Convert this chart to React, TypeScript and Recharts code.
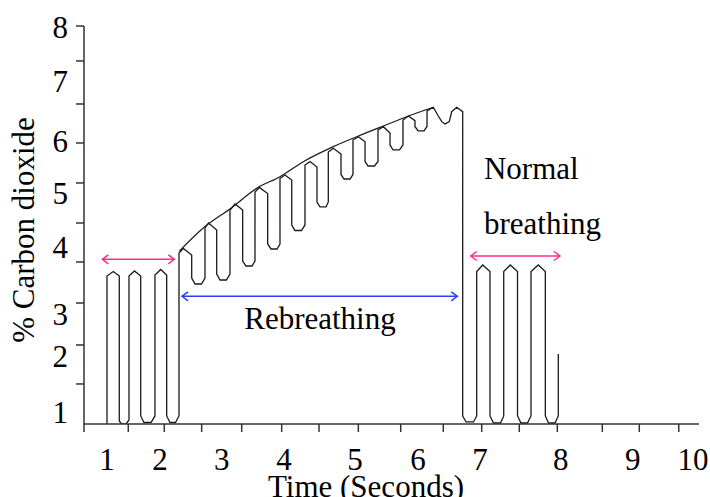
import React from 'react';
import { ComposedChart, Line, XAxis, YAxis, ReferenceLine, ReferenceDot } from 'recharts';

// The original figure is hand drawn: tick marks and tick labels are not evenly placed,
// so marks and labels are kept as separate lists (positions in axis units).
const xTickMarks = [0.647, 1.327, 1.88, 2.454, 3.069, 3.683, 4.256, 4.86, 5.511, 6.165, 6.755, 7.332, 7.916, 8.607, 9.175, 9.781];
const xLabelPos = [1, 1.814, 2.762, 3.719, 4.81, 5.777, 6.728, 7.968, 9.074, 10];
const xLabels = ['1', '2', '3', '4', '5', '6', '7', '8', '9', '10'];

const yTickMarks = [1.527, 2.235, 2.997, 3.742, 4.45, 5.177, 5.903, 6.611, 7.392, 8.027];
const yLabelPos = [1, 2.017, 2.78, 3.996, 4.977, 5.921, 7.011, 8];
const yLabels = ['1', '2', '3', '4', '5', '6', '7', '8'];

// CO2 trace: normal breathing, rebreathing, normal breathing
const traceTime = [
  1.0, 1.0, 1.097, 1.189, 1.189, 1.223, 1.292, 1.338, 1.338, 1.422, 1.518, 1.518, 1.568, 1.676, 1.737, 1.737,
  1.825, 1.917, 1.917, 1.968, 2.052, 2.106,
  2.106, 2.172, 2.301, 2.301, 2.352, 2.451, 2.505, 2.505, 2.559, 2.685, 2.685, 2.736, 2.835, 2.889, 2.889, 2.966,
  3.084, 3.084, 3.135, 3.227, 3.273, 3.273, 3.339, 3.468, 3.468, 3.519, 3.611, 3.657, 3.657, 3.734, 3.837, 3.837,
  3.887, 3.987, 4.041, 4.041, 4.118, 4.225, 4.225, 4.271, 4.364, 4.399, 4.399, 4.476, 4.594, 4.594, 4.64, 4.732,
  4.778, 4.778, 4.86, 4.963, 4.963, 5.009, 5.108, 5.162, 5.162, 5.244, 5.347, 5.347, 5.393, 5.492, 5.546, 5.546,
  5.628, 5.73, 5.73, 5.777, 5.869, 5.915, 5.915, 6.012, 6.088, 6.141, 6.191, 6.257, 6.294, 6.371, 6.463,
  6.463, 6.514, 6.629, 6.678, 6.678, 6.77, 6.882, 6.882, 6.936, 7.044, 7.093, 7.093, 7.194, 7.305, 7.305, 7.358,
  7.458, 7.512, 7.512, 7.624, 7.732, 7.732, 7.781, 7.881, 7.931, 7.931,
];
const traceCO2 = [
  0.8, 3.488, 3.569, 3.488, 0.855, 0.8, 0.8, 0.873, 3.488, 3.579, 3.488, 0.946, 0.827, 0.827, 0.946, 3.506,
  3.606, 3.506, 0.946, 0.827, 0.827, 0.946,
  3.905, 3.987, 3.869, 3.451, 3.342, 3.342, 3.451, 4.359, 4.45, 4.323, 3.524, 3.415, 3.415, 3.524, 4.686, 4.795,
  4.686, 3.76, 3.669, 3.669, 3.76, 5.013, 5.095, 4.986, 4.069, 3.978, 3.978, 4.069, 5.258, 5.322, 5.231, 4.414,
  4.314, 4.314, 4.414, 5.503, 5.567, 5.467, 4.832, 4.741, 4.741, 4.832, 5.739, 5.807, 5.703, 5.331, 5.249, 5.249,
  5.331, 5.957, 6.017, 5.926, 5.567, 5.485, 5.485, 5.567, 6.139, 6.199, 6.084, 5.867, 5.776, 5.776, 5.867, 6.321,
  6.393, 6.308, 6.203, 6.121, 6.121, 6.203, 6.484, 6.551, 6.393, 6.29, 6.248, 6.29, 6.471, 6.551, 6.471,
  0.946, 0.837, 0.837, 0.946, 3.569, 3.688, 3.569, 0.946, 0.818, 0.818, 0.946, 3.569, 3.688, 3.569, 0.946, 0.818,
  0.818, 0.946, 3.569, 3.688, 3.569, 0.946, 0.818, 0.818, 0.946, 2.071,
];

// envelope drawn over the rebreathing peaks
const envTime = [2.114, 2.474, 2.915, 3.299, 3.657, 4.015, 4.476, 4.835, 5.244, 5.603, 6.012];
const envCO2 = [3.942, 4.354, 4.728, 5.08, 5.291, 5.563, 5.836, 6.017, 6.212, 6.38, 6.551];

const trace = traceTime.map((t, i) => ({ t, co2: traceCO2[i] }));
const envelope = envTime.map((t, i) => ({ t, co2: envCO2[i] }));

const FONT = '"Liberation Serif", "Times New Roman", serif';
const FS = 31;
const PINK = '#ff2d8c';
const BLUE = '#2b3bff';

const has = (arr: number[], v: number) => arr.findIndex((a) => Math.abs(a - v) < 1e-6);

const renderXTick = (props: any) => {
  const { x, y, payload } = props;
  const mark = has(xTickMarks, payload.value) >= 0;
  const li = has(xLabelPos, payload.value);
  return (
    <g>
      {mark && <line x1={x} x2={x} y1={y} y2={y + 8} stroke="#333" strokeWidth={1.5} />}
      {li >= 0 && (
        <text x={x} y={y + 46} textAnchor="middle" fontFamily={FONT} fontSize={FS} fill="#000">
          {xLabels[li]}
        </text>
      )}
    </g>
  );
};

const renderYTick = (props: any) => {
  const { x, y, payload } = props;
  const mark = has(yTickMarks, payload.value) >= 0;
  const li = has(yLabelPos, payload.value);
  return (
    <g>
      {mark && <line x1={x - 8} x2={x} y1={y} y2={y} stroke="#333" strokeWidth={1.5} />}
      {li >= 0 && (
        <text x={x - 16} y={y + 10.5} textAnchor="end" fontFamily={FONT} fontSize={FS} fill="#000">
          {yLabels[li]}
        </text>
      )}
    </g>
  );
};

const Arrow = (props: any) => {
  const { x1, y1, x2, stroke } = props;
  const h = 6;
  const w = 4.5;
  return (
    <g stroke={stroke} strokeWidth={1.5} fill="none">
      <line x1={x1} y1={y1} x2={x2} y2={y1} />
      <polyline points={`${x1 + h},${y1 - w} ${x1},${y1} ${x1 + h},${y1 + w}`} />
      <polyline points={`${x2 - h},${y1 - w} ${x2},${y1} ${x2 - h},${y1 + w}`} />
    </g>
  );
};

const xTicks = [...xTickMarks, ...xLabelPos].sort((a, b) => a - b);
const yTicks = [...yTickMarks, ...yLabelPos].sort((a, b) => a - b);

export default function App() {
  return (
    <div>
      <style>{'body{margin:0}'}</style>
      <ComposedChart width={710} height={497} margin={{ top: 26, right: 11, bottom: 0, left: 0 }}>
        <XAxis
          type="number"
          dataKey="t"
          domain={[0.647, 10.092]}
          allowDataOverflow
          ticks={xTicks}
          interval={0}
          tick={renderXTick}
          tickLine={false}
          tickSize={0}
          tickMargin={0}
          height={73}
          axisLine={{ stroke: '#333', strokeWidth: 1.5 }}
          label={() => (
            <text x={366} y={497} textAnchor="middle" fontFamily={FONT} fontSize={FS} fill="#000">
              Time (Seconds)
            </text>
          )}
        />
        <YAxis
          type="number"
          domain={[0.8, 8.027]}
          allowDataOverflow
          ticks={yTicks}
          interval={0}
          tick={renderYTick}
          tickLine={false}
          tickSize={0}
          tickMargin={0}
          width={84}
          axisLine={{ stroke: '#333', strokeWidth: 1.5 }}
          label={() => (
            <text
              x={34}
              y={230}
              transform="rotate(-90, 34, 230)"
              textAnchor="middle"
              fontFamily={FONT}
              fontSize={FS}
              fill="#000"
            >
              % Carbon dioxide
            </text>
          )}
        />
        <Line
          data={trace}
          dataKey="co2"
          type="linear"
          stroke="#1a1a1a"
          strokeWidth={1.3}
          dot={false}
          activeDot={false}
          isAnimationActive={false}
        />
        <Line
          data={envelope}
          dataKey="co2"
          type="monotone"
          stroke="#1a1a1a"
          strokeWidth={1.2}
          dot={false}
          activeDot={false}
          isAnimationActive={false}
        />
        <ReferenceLine segment={[{ x: 0.928, y: 3.791 }, { x: 2.034, y: 3.791 }]} stroke={PINK} shape={Arrow} />
        <ReferenceLine segment={[{ x: 6.586, y: 3.851 }, { x: 7.957, y: 3.851 }]} stroke={PINK} shape={Arrow} />
        <ReferenceLine segment={[{ x: 2.152, y: 3.119 }, { x: 6.38, y: 3.119 }]} stroke={BLUE} shape={Arrow} />
        <ReferenceDot
          x={4.271}
          y={2.525}
          r={0}
          shape={(p: any) => (
            <text x={p.cx} y={p.cy} textAnchor="middle" fontFamily={FONT} fontSize={FS} fill="#000">
              Rebreathing
            </text>
          )}
        />
        <ReferenceDot
          x={6.79}
          y={5.249}
          r={0}
          shape={(p: any) => (
            <text x={p.cx} y={p.cy} fontFamily={FONT} fontSize={FS} fill="#000">
              <tspan x={p.cx}>Normal</tspan>
              <tspan x={p.cx} dy={55}>breathing</tspan>
            </text>
          )}
        />
      </ComposedChart>
    </div>
  );
}
